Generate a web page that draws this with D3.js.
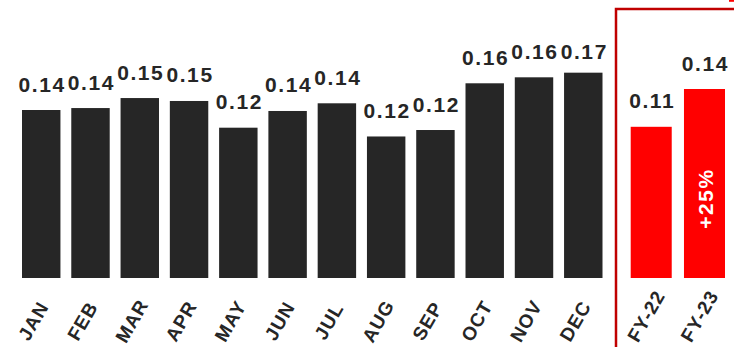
<!DOCTYPE html>
<html>
<head>
<meta charset="utf-8">
<script src="https://cdn.jsdelivr.net/npm/d3@7"></script>
<style>
  html, body { margin: 0; padding: 0; background: #fff; }
  svg { display: block; }
  text { font-family: "Liberation Sans", Arial, Helvetica, sans-serif; font-weight: bold; }
</style>
</head>
<body>
<svg id="chart" width="734" height="347"></svg>
<script>
// ---- data ----
const months = ["JAN","FEB","MAR","APR","MAY","JUN","JUL","AUG","SEP","OCT","NOV","DEC"];
const monthValues = [0.1377, 0.1393, 0.1475, 0.1451, 0.1232, 0.1369, 0.1432, 0.116, 0.1213, 0.1596, 0.1645, 0.1683];
const fyLabels = ["FY-22","FY-23"];
const fyValues = [0.112, 0.14];
const changeLabel = "+25%";

// ---- layout ----
const W = 734, H = 347;
const baseY = 278;
const svg = d3.select("#chart");
svg.append("rect").attr("width", W).attr("height", H).attr("fill", "#fff");

const fmt = d3.format(".2f");
const darkBar = "#262626";
const redBar = "#ff0000";
const frameColor = "#c00000";

// monthly scales
const xM = d3.scaleBand().domain(months).range([22, 602.5]).paddingInner(0.22).paddingOuter(0);
const yM = d3.scaleLinear().domain([0, 0.2]).range([baseY, 34]);

// FY scales
const xF = d3.scaleBand().domain(fyLabels).range([630.7, 725]).paddingInner(0.23).paddingOuter(0);
const yF = d3.scaleLinear().domain([0, 0.2]).range([baseY, 8]);

// frame
svg.append("path")
  .attr("d", `M616,${H} V9 H${W + 5}`)
  .attr("fill", "none")
  .attr("stroke", frameColor)
  .attr("stroke-width", 2.5);
svg.append("path")
  .attr("d", `M729,0.8 H734`)
  .attr("stroke", redBar)
  .attr("stroke-width", 2);

// monthly bars
svg.append("g").selectAll("rect").data(months).join("rect")
  .attr("x", d => xM(d))
  .attr("y", (d, i) => yM(monthValues[i]))
  .attr("width", xM.bandwidth())
  .attr("height", (d, i) => baseY - yM(monthValues[i]))
  .attr("fill", darkBar);

// FY bars
svg.append("g").selectAll("rect").data(fyLabels).join("rect")
  .attr("x", d => xF(d))
  .attr("y", (d, i) => yF(fyValues[i]))
  .attr("width", xF.bandwidth())
  .attr("height", (d, i) => baseY - yF(fyValues[i]))
  .attr("fill", redBar);

// value labels
function valueLabels(xs, ys, cats, vals) {
  svg.append("g").selectAll("text").data(cats).join("text")
    .attr("x", d => xs(d) + xs.bandwidth() / 2 + 1)
    .attr("y", (d, i) => Math.max(ys(vals[i]) - 18.5, 59))
    .attr("text-anchor", "middle")
    .attr("font-size", 21)
    .attr("letter-spacing", "1.6px")
    .attr("fill", "#262626")
    .text((d, i) => fmt(vals[i]));
}
valueLabels(xM, yM, months, monthValues);
valueLabels(xF, yF, fyLabels, fyValues);

// change label inside FY-23 bar
const lastFY = fyLabels[fyLabels.length - 1];
const cy = (yF(fyValues[fyValues.length - 1]) + baseY) / 2 + 15;
svg.append("text")
  .attr("transform", `translate(${xF(lastFY) + xF.bandwidth() / 2 + 1},${cy}) rotate(-90)`)
  .attr("text-anchor", "middle")
  .attr("dy", "0.35em")
  .attr("font-size", 21)
  .attr("letter-spacing", "1.5px")
  .attr("fill", "#fff")
  .text(changeLabel);

// axes
function styledAxis(xs, shift) {
  const g = svg.append("g")
    .attr("transform", `translate(0,${baseY})`)
    .call(d3.axisBottom(xs).tickSize(0));
  g.select(".domain").remove();
  g.selectAll("text")
    .attr("x", 0).attr("y", 0)
    .attr("dy", "0.35em")
    .attr("text-anchor", "middle")
    .attr("transform", `translate(${shift[0]},${shift[1]}) rotate(-60)`)
    .attr("font-size", 19)
    .attr("font-family", "'Liberation Sans', Arial, sans-serif")
    .attr("font-weight", "bold")
    .attr("letter-spacing", "1px")
    .attr("fill", "#262626");
}
styledAxis(xM, [-8, 43]);
styledAxis(xF, [-5, 38]);
</script>
</body>
</html>
